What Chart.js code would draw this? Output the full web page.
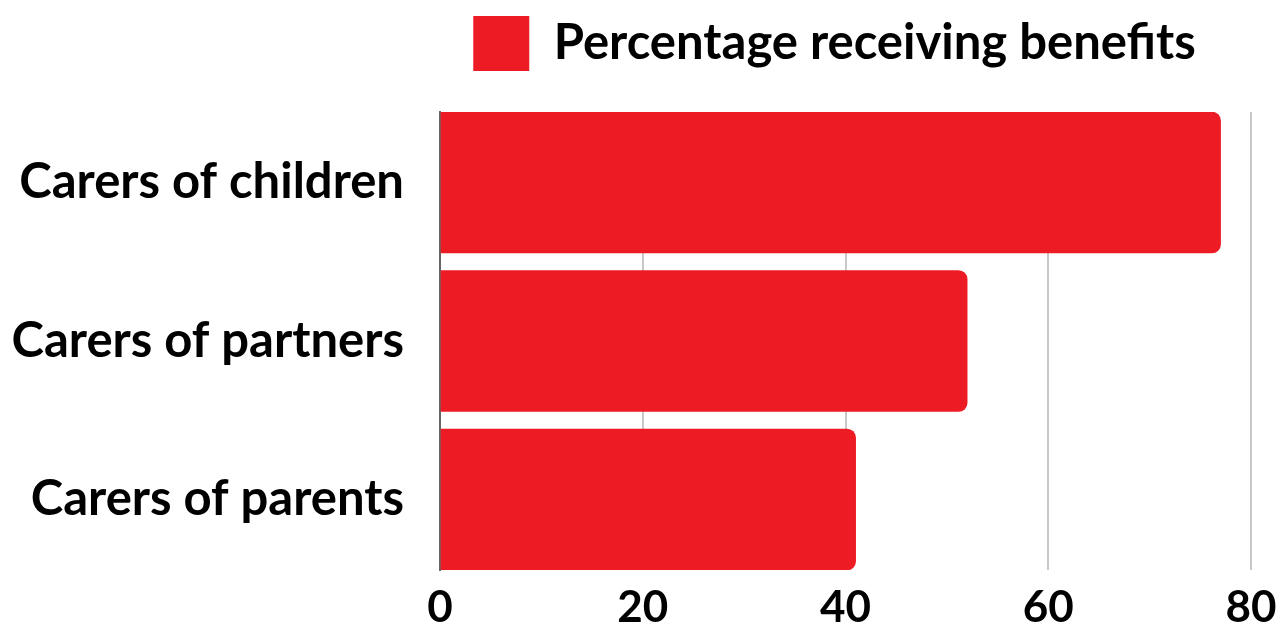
<!DOCTYPE html>
<html lang="en">
<head>
    <meta charset="UTF-8">
    <title>Percentage receiving benefits</title>
    <script src="https://cdn.jsdelivr.net/npm/chart.js"></script>
    <style>
        html, body { margin: 0; padding: 0; background: #fff; }
        #wrap { width: 1279px; height: 631px; }
    </style>
</head>
<body>
    <div id="wrap"><canvas id="Chart"></canvas></div>
    <script>
        const categories = ['Carers of children', 'Carers of partners', 'Carers of parents'];
        const values = [77, 52, 41];
        const seriesLabel = 'Percentage receiving benefits';
        const xTicks = [0, 20, 40, 60, 80];

        const red = '#ed1c24';
        const fontName = 'Lato, "Noto Sans", sans-serif';

        // extra room under the legend, and legend pushed right over the plot
        const legendGap = {
            id: 'legendGap',
            beforeInit(chart) {
                const fit = chart.legend.fit;
                chart.legend.fit = function () {
                    fit.bind(chart.legend)();
                    this.height += 31;
                };
            },
            afterLayout(chart) {
                chart.legend.left = 418;
            }
        };

        const ctx = document.getElementById('Chart').getContext('2d');
        const dataChart = new Chart(ctx, {
            type: 'bar',
            data: {
                datasets: [{
                    label: seriesLabel,
                    backgroundColor: red,
                    borderWidth: 0,
                    borderRadius: { topRight: 9, bottomRight: 9 },
                    borderSkipped: false,
                    barThickness: 141,
                    data: values.map((v, i) => ({ x: v, y: i }))
                }]
            },
            plugins: [legendGap],
            options: {
                indexAxis: 'y',
                responsive: true,
                maintainAspectRatio: false,
                animation: false,
                layout: { padding: { top: 0, right: 28, left: 0, bottom: 0 } },
                plugins: {
                    tooltip: { enabled: false },
                    legend: {
                        position: 'top',
                        labels: {
                            boxWidth: 56,
                            boxHeight: 55,
                            padding: 16,
                            color: '#000',
                            font: { family: fontName, size: 49, weight: 'bold' }
                        }
                    }
                },
                scales: {
                    x: {
                        min: 0,
                        max: 80,
                        afterBuildTicks: s => { s.ticks = xTicks.map(v => ({ value: v })); },
                        grid: { color: '#c8c8c8', lineWidth: 2, drawTicks: false },
                        border: { display: false },
                        ticks: {
                            padding: 11,
                            color: '#000',
                            font: { family: fontName, size: 44, weight: 'bold' }
                        },
                        afterFit: s => { s.height = 61; s.paddingLeft = 0; s.paddingRight = 0; }
                    },
                    y: {
                        type: 'linear',
                        reverse: true,
                        offset: false,
                        min: -0.445,
                        max: 2.445,
                        afterBuildTicks: s => { s.ticks = categories.map((c, i) => ({ value: i })); },
                        grid: { display: false, drawTicks: false },
                        border: { display: true, color: '#666', width: 2 },
                        ticks: {
                            padding: 36,
                            color: '#000',
                            callback: v => categories[v],
                            font: { family: fontName, size: 49, weight: 'bold' }
                        },
                        afterFit: s => { s.width = 440; s.paddingTop = 0; s.paddingBottom = 0; }
                    }
                }
            }
        });
    </script>
</body>
</html>
